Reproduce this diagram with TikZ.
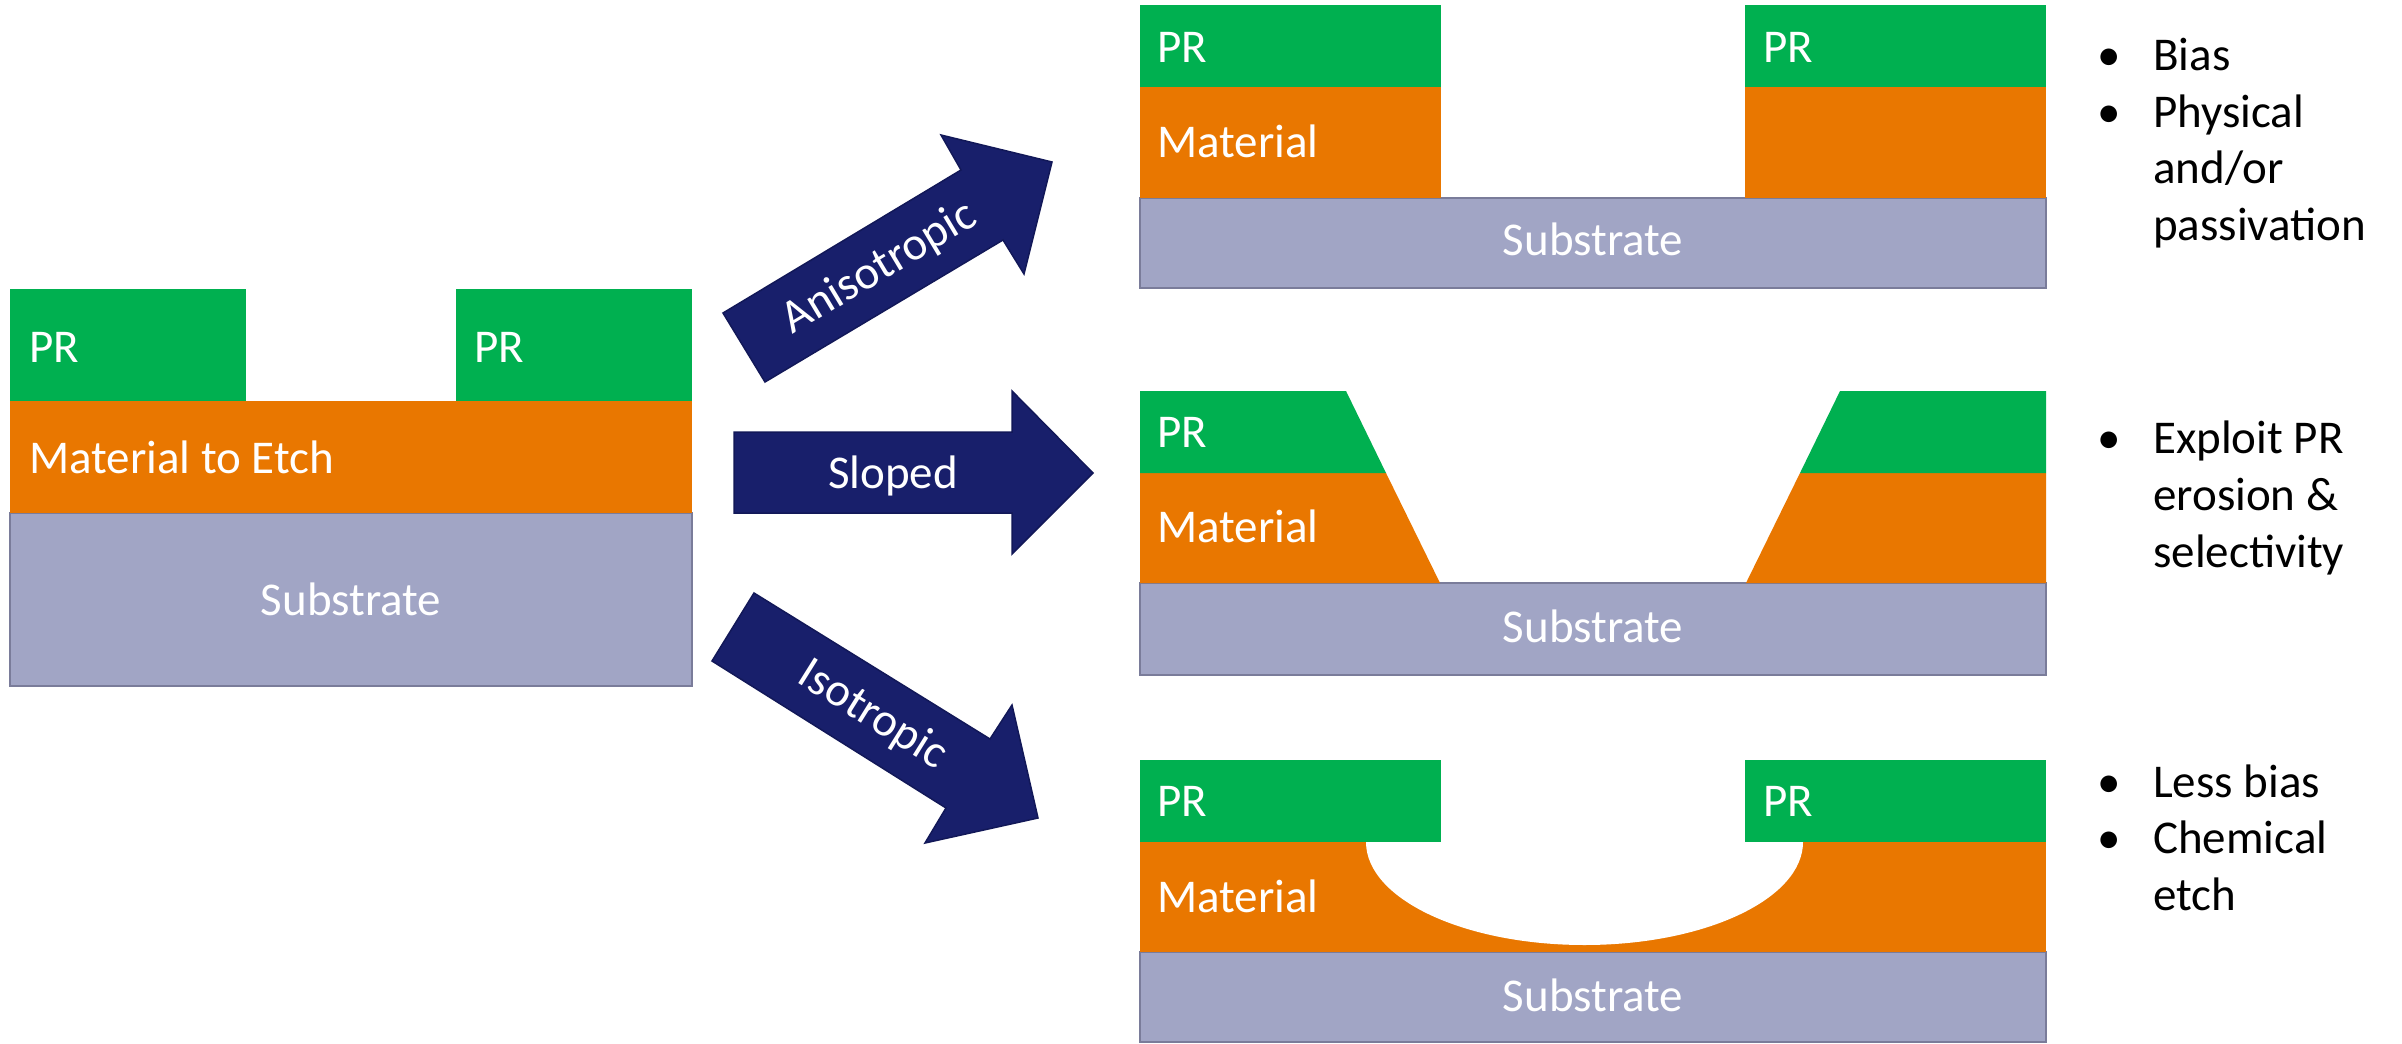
\documentclass[tikz,border=0pt]{standalone}
\usepackage{fontspec}
\setmainfont{Carlito}
\definecolor{prgreen}{RGB}{0,176,80}
\definecolor{matorange}{RGB}{233,119,0}
\definecolor{subfill}{RGB}{161,165,197}
\definecolor{subedge}{RGB}{122,124,154}
\definecolor{arrownavy}{RGB}{24,31,107}
\definecolor{arrowedge}{RGB}{18,24,88}
\begin{document}
\begin{tikzpicture}[x=1pt,y=-1pt,
  pr/.style={fill=prgreen},
  mat/.style={fill=matorange},
  sub/.style={fill=subfill,draw=subedge,line width=2.5pt},
  bigarrow/.style={fill=arrownavy,draw=arrowedge,line width=1.5pt,line join=miter},
  lbl/.style={text=white,font=\fontsize{47}{56}\selectfont,inner sep=0pt,anchor=base west},
  sublbl/.style={text=white,font=\fontsize{47}{56}\selectfont,inner sep=0pt,anchor=base},
  bul/.style={text=black,font=\fontsize{47}{56}\selectfont,inner sep=0pt,anchor=base west}]
\useasboundingbox[fill=white] (0,0) rectangle (2402,1044);

% ---- initial stack ----
\draw[sub] (10,513) rectangle (692,686);
\fill[mat] (10,401) rectangle (692,513);
\fill[pr] (10,289) rectangle (246,401);
\fill[pr] (456,289) rectangle (692,401);
\node[lbl] (prL1) at (29,362) {PR};
\node[lbl] (prL2) at (474,362) {PR};
\node[lbl] (matL) at (29,473) {Material to Etch};
\node[sublbl] (subL) at (351,615) {Substrate};

% ---- anisotropic result ----
\draw[sub] (1140,198) rectangle (2046,288);
\fill[mat] (1140,87) rectangle (1441,198);
\fill[mat] (1745,87) rectangle (2046,198);
\fill[pr] (1140,5) rectangle (1441,87);
\fill[pr] (1745,5) rectangle (2046,87);
\node[lbl] (prA1) at (1157,62) {PR};
\node[lbl] (prA2) at (1763,62) {PR};
\node[lbl] (matA) at (1157,157) {Material};
\node[sublbl] (subA) at (1593,255) {Substrate};

% ---- sloped result ----
\draw[sub] (1140,583) rectangle (2046,675);
\fill[mat] (1140,473) -- (1386,473) -- (1440,583) -- (1140,583) -- cycle;
\fill[mat] (1800,473) -- (2046,473) -- (2046,583) -- (1746,583) -- cycle;
\fill[pr] (1140,391) -- (1346,391) -- (1386,473) -- (1140,473) -- cycle;
\fill[pr] (1840,391) -- (2046,391) -- (2046,473) -- (1800,473) -- cycle;
\node[lbl] (prS1) at (1157,447) {PR};
\node[lbl] (matS) at (1157,542) {Material};
\node[sublbl] (subS) at (1593,642) {Substrate};

% ---- isotropic result ----
\draw[sub] (1140,952) rectangle (2046,1042);
\fill[mat] (1140,842) rectangle (2046,952);
\fill[white] (1366,842) arc[start angle=180,end angle=360,x radius=218.5pt,y radius=103pt] -- cycle;
\fill[pr] (1140,760) rectangle (1441,842);
\fill[pr] (1745,760) rectangle (2046,842);
\node[lbl] (prI1) at (1157,816) {PR};
\node[lbl] (prI2) at (1763,816) {PR};
\node[lbl] (matI) at (1157,912) {Material};
\node[sublbl] (subI) at (1593,1011) {Substrate};

% ---- arrows ----
\draw[bigarrow] (723,313) -- (961,170) -- (941,135) -- (1052,162) -- (1024,274) -- (1003,240) -- (765,382) -- cycle;
\node[sublbl,rotate=31] (txtA) at (886,279) {Anisotropic};

\draw[bigarrow] (734,432) -- (1012,432) -- (1012,391) -- (1093,473) -- (1012,554) -- (1012,513) -- (734,513) -- cycle;
\node[sublbl] (txtS) at (893,488) {Sloped};

\draw[bigarrow] (754,593) -- (990,739) -- (1012,705) -- (1038,818) -- (925,843) -- (946,808) -- (712,661) -- cycle;
\node[sublbl,rotate=-32] (txtI) at (866,726) {Isotropic};

% ---- bullet notes ----
\node[bul] (bA1) at (2097,70) {•};
\node[bul] (tA1) at (2153,70) {Bias};
\node[bul] (bA2) at (2097,127) {•};
\node[bul] (tA2) at (2153,127) {Physical};
\node[bul] (tA3) at (2153,183) {and/or};
\node[bul] (tA4) at (2153,240) {passivation};

\node[bul] (bS1) at (2097,453) {•};
\node[bul] (tS1) at (2153,453) {Exploit PR};
\node[bul] (tS2) at (2153,510) {erosion \&};
\node[bul] (tS3) at (2153,567) {selectivity};

\node[bul] (bI1) at (2097,797) {•};
\node[bul] (tI1) at (2153,797) {Less bias};
\node[bul] (bI2) at (2097,853) {•};
\node[bul] (tI2) at (2153,853) {Chemical};
\node[bul] (tI3) at (2153,910) {etch};
\end{tikzpicture}
\end{document}
